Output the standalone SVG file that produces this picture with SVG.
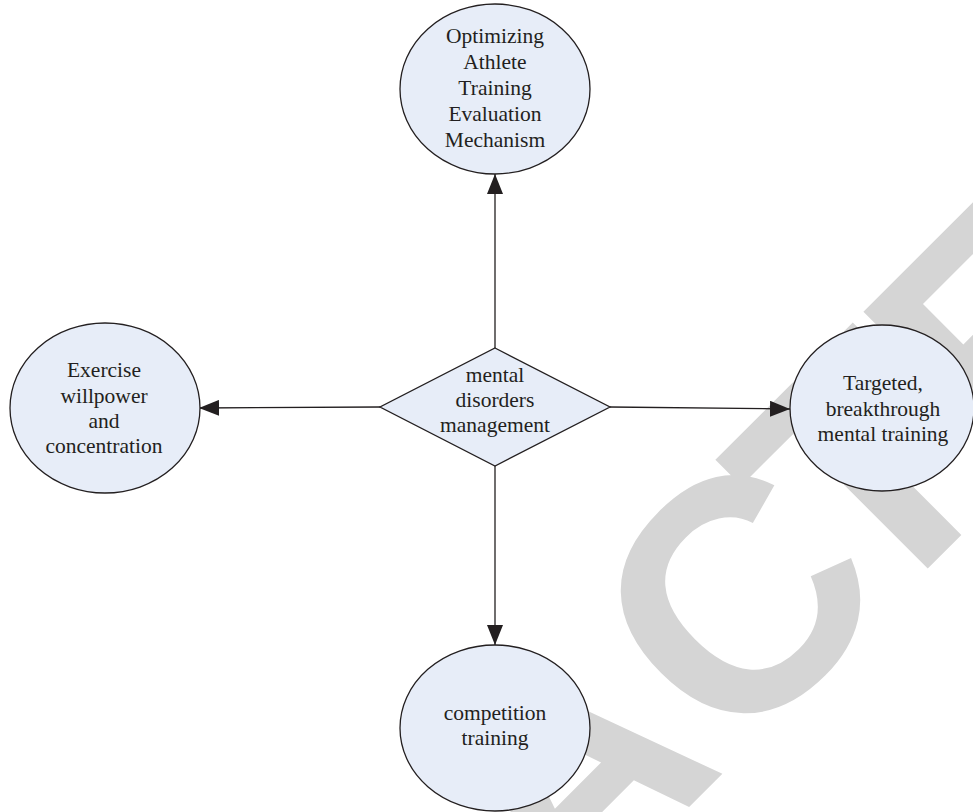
<svg xmlns="http://www.w3.org/2000/svg" width="973" height="812" viewBox="0 0 973 812">
  <defs>
    <style>
      .node { fill: #e7edf8; stroke: #231f20; stroke-width: 1.3; }
      .lbl { font-family: "Liberation Serif", "Times New Roman", serif; font-size: 21.5px; fill: #231f20; text-anchor: middle; }
      .conn { stroke: #231f20; stroke-width: 1.3; fill: none; marker-end: url(#arrow); }
      .wm { font-family: "Liberation Sans", Arial, sans-serif; font-weight: bold; font-size: 330px; fill: #d5d5d5; }
    </style>
    <marker id="arrow" viewBox="0 0 20 16" refX="20" refY="8" markerWidth="20" markerHeight="16" markerUnits="userSpaceOnUse" orient="auto">
      <path d="M0,0 L20,8 L0,16 Z" fill="#231f20"/>
    </marker>
  </defs>
  <rect width="973" height="812" fill="#ffffff"/>

  <g id="watermark">
    <text class="wm" transform="rotate(-45)" x="-1164 -926 -706 -504 -266 -22 177 368 588" y="1058">RETRACTED</text>
  </g>

  <g id="connectors">
    <line class="conn" x1="495" y1="348" x2="495" y2="174"/>
    <line class="conn" x1="380" y1="407" x2="199" y2="408"/>
    <line class="conn" x1="610" y1="407" x2="790" y2="409"/>
    <line class="conn" x1="495" y1="466" x2="495" y2="645"/>
  </g>

  <g id="center">
    <polygon class="node" points="495,348 610,407 495,466 380,407"/>
    <text class="lbl" x="495" y="382">mental</text>
    <text class="lbl" x="495" y="407">disorders</text>
    <text class="lbl" x="495" y="432">management</text>
  </g>

  <g id="top">
    <ellipse class="node" cx="495" cy="89" rx="95" ry="85"/>
    <text class="lbl" x="495" y="43">Optimizing</text>
    <text class="lbl" x="495" y="69">Athlete</text>
    <text class="lbl" x="495" y="95">Training</text>
    <text class="lbl" x="495" y="121">Evaluation</text>
    <text class="lbl" x="495" y="147">Mechanism</text>
  </g>

  <g id="left">
    <ellipse class="node" cx="105" cy="408" rx="95" ry="85"/>
    <text class="lbl" x="104" y="377">Exercise</text>
    <text class="lbl" x="104" y="403">willpower</text>
    <text class="lbl" x="104" y="428">and</text>
    <text class="lbl" x="104" y="453">concentration</text>
  </g>

  <g id="right">
    <ellipse class="node" cx="882" cy="408" rx="92" ry="83"/>
    <text class="lbl" x="883" y="390">Targeted,</text>
    <text class="lbl" x="883" y="416">breakthrough</text>
    <text class="lbl" x="883" y="441">mental training</text>
  </g>

  <g id="bottom">
    <ellipse class="node" cx="495" cy="728" rx="95" ry="83"/>
    <text class="lbl" x="495" y="720">competition</text>
    <text class="lbl" x="495" y="745">training</text>
  </g>
</svg>
